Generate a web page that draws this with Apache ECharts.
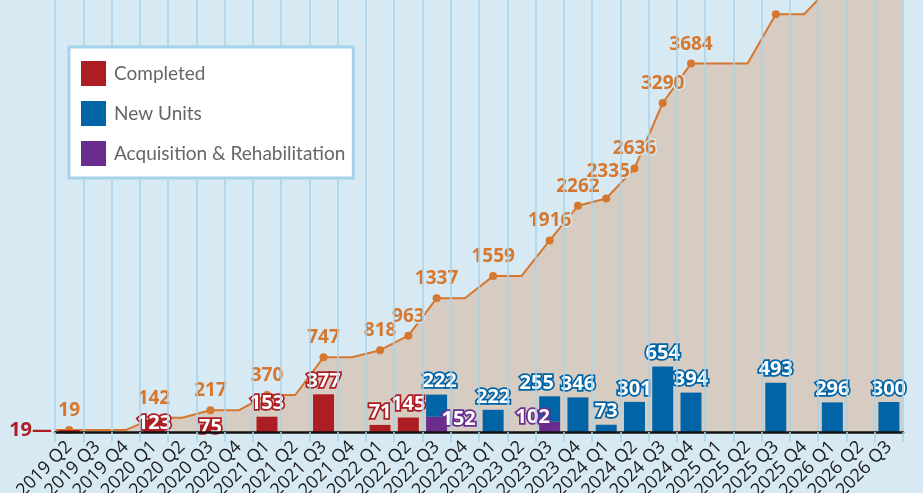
<!DOCTYPE html>
<html>
<head>
<meta charset="utf-8">
<script src="https://cdn.jsdelivr.net/npm/echarts@6/dist/echarts.min.js"></script>
<style>
  html, body { margin: 0; padding: 0; background: #d7e9f3; }
  #chart { width: 923px; height: 493px; }
</style>
</head>
<body>
<div id="chart"></div>
<script>
// quarters on the x axis
var quarters = ['2019 Q2', '2019 Q3', '2019 Q4', '2020 Q1', '2020 Q2', '2020 Q3', '2020 Q4',
  '2021 Q1', '2021 Q2', '2021 Q3', '2021 Q4', '2022 Q1', '2022 Q2', '2022 Q3', '2022 Q4',
  '2023 Q1', '2023 Q2', '2023 Q3', '2023 Q4', '2024 Q1', '2024 Q2', '2024 Q3', '2024 Q4',
  '2025 Q1', '2025 Q2', '2025 Q3', '2025 Q4', '2026 Q1', '2026 Q2', '2026 Q3'];

// units per quarter (null = none)
var completed = [19, null, null, 123, null, 75, null, 153, null, 377, null, 71, 145, null, null,
  null, null, null, null, null, null, null, null, null, null, null, null, null, null, null];
var newUnits = [null, null, null, null, null, null, null, null, null, null, null, null, null, 222, null,
  222, null, 255, 346, 73, 301, 654, 394, null, null, 493, null, 296, null, 300];
var acqRehab = [null, null, null, null, null, null, null, null, null, null, null, null, null, 152, null,
  null, null, 102, null, null, null, null, null, null, null, null, null, null, null, null];

// running total
var cumulative = [19, 19, 19, 142, 142, 217, 217, 370, 370, 747, 747, 818, 963, 1337, 1337,
  1559, 1559, 1916, 2262, 2335, 2636, 3290, 3684, 3684, 3684, 4177, 4177, 4473, 4473, 4773];

var startMark = [19];

var RED = '#ac1e23', BLUE = '#0064a7', PURPLE = '#6a2c8d', ORANGE = '#d5772e', BG = '#d7e9f3';
var FONT = 'Open Sans';

// label nudges for crowded spots
var barLabelTweak = {
  completed: { 0: { show: false }, 3: { offset: [0, 17] }, 5: { offset: [0, 16] } },
  acq: { 13: { offset: [22, 15] }, 17: { offset: [-17, 8] } },
  newUnits: { 13: { offset: [3, 0] }, 17: { offset: [-13, 0] } }
};
var lineLabelTweak = { 19: { offset: [2, -7] } };

function barData(values, tweaks) {
  return values.map(function (v, i) {
    if (v == null) return null;
    var item = { value: v };
    if (tweaks[i]) item.label = tweaks[i];
    return item;
  });
}

function barLabel(color) {
  return {
    show: true,
    position: 'top',
    distance: 3,
    color: '#fff',
    fontFamily: FONT,
    fontWeight: 'bold',
    fontSize: 20,
    textBorderColor: color,
    textBorderWidth: 3.5
  };
}

// line points, stretched to the plot edges
var lineData = [{ value: [-0.5, cumulative[0]], symbol: 'none', label: { show: false } }];
cumulative.forEach(function (v, i) {
  var changed = i === 0 || v !== cumulative[i - 1];
  var lbl = { show: changed };
  if (lineLabelTweak[i]) lbl.offset = lineLabelTweak[i].offset;
  lineData.push({
    value: [i, v],
    symbol: changed ? 'circle' : 'none',
    label: lbl
  });
});
lineData.push({ value: [quarters.length - 0.5, cumulative[cumulative.length - 1]], symbol: 'none', label: { show: false } });

var myChart = echarts.init(document.getElementById('chart'));
var option = {
  animation: false,
  backgroundColor: BG,
  grid: { left: 55, right: 20, top: 0, bottom: 61, outerBoundsMode: 'none' },
  legend: {
    data: ['Completed', 'New Units', 'Acquisition & Rehabilitation'],
    orient: 'vertical',
    left: 69,
    top: 47,
    z: 20,
    padding: [14, 8, 12, 12],
    itemWidth: 25,
    itemHeight: 25,
    itemGap: 15,
    icon: 'rect',
    backgroundColor: '#fff',
    borderColor: '#a6d3ec',
    borderWidth: 3,
    textStyle: { fontFamily: 'Lato', fontSize: 19, color: '#666', padding: [0, 0, 0, 3] }
  },
  xAxis: [{
    type: 'category',
    data: quarters,
    axisLine: { lineStyle: { color: '#111', width: 2.5 } },
    axisTick: { show: true, length: 10, lineStyle: { color: '#a8d3ea', width: 1.5 } },
    splitLine: { show: true, lineStyle: { color: '#a8d3ea', width: 1.5 } },
    axisLabel: { interval: 0, rotate: 45, margin: 12, fontFamily: FONT, fontSize: 18, color: '#1a1a1a' },
    z: 5
  }, {
    type: 'value',
    min: -0.5,
    max: quarters.length - 0.5,
    show: false
  }],
  yAxis: {
    type: 'value',
    min: 0,
    max: 4320,
    splitLine: { show: false },
    axisLine: { show: false },
    axisTick: { show: false },
    axisLabel: {
      customValues: startMark, margin: 3, color: RED,
      formatter: '{value}\u2014',
      fontFamily: FONT, fontWeight: 'bold', fontSize: 20
    }
  },
  series: [{
    name: 'Total',
    type: 'line',
    xAxisIndex: 1,
    data: lineData,
    symbolSize: 8,
    itemStyle: { color: ORANGE },
    lineStyle: { color: ORANGE, width: 2 },
    areaStyle: { color: ORANGE, opacity: 0.25 },
    label: {
      position: 'top', distance: 6, color: ORANGE,
      fontFamily: FONT, fontWeight: 'bold', fontSize: 19,
      textBorderColor: BG, textBorderWidth: 3
    },
    z: 2
  }, {
    name: 'Completed',
    type: 'bar',
    stack: 'units',
    barWidth: 21,
    itemStyle: { color: RED },
    label: barLabel(RED),
    data: barData(completed, barLabelTweak.completed),
    z: 3
  }, {
    name: 'Acquisition & Rehabilitation',
    type: 'bar',
    stack: 'units',
    barWidth: 21,
    itemStyle: { color: PURPLE },
    label: barLabel(PURPLE),
    data: barData(acqRehab, barLabelTweak.acq),
    z: 3
  }, {
    name: 'New Units',
    type: 'bar',
    stack: 'units',
    barWidth: 21,
    itemStyle: { color: BLUE },
    label: barLabel(BLUE),
    data: barData(newUnits, barLabelTweak.newUnits),
    z: 3
  }]
};
myChart.setOption(option);
</script>
</body>
</html>
